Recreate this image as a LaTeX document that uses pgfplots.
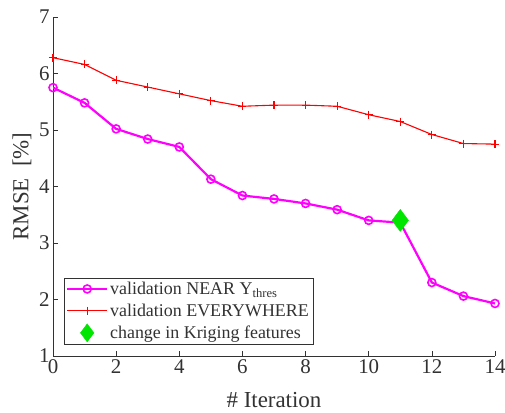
\documentclass[border=0pt]{standalone}
\usepackage{fontspec}
\setmainfont{Liberation Serif}
\usepackage{pgfplots}
\pgfplotsset{compat=1.18}
\definecolor{axgray}{RGB}{50,50,50}
\definecolor{magentaL}{RGB}{255,0,255}
\definecolor{greenD}{RGB}{0,230,0}
\begin{document}
\begin{tikzpicture}
\begin{axis}[
  name=ax,
  scale only axis,
  width=442bp, height=339bp,
  xmin=0, xmax=14, ymin=1, ymax=7,
  xtick={0,2,...,14}, ytick={1,2,...,7},
  axis x line*=bottom, axis y line*=left,
  axis line style={axgray, line width=0.6pt},
  tick style={axgray, line width=0.6pt},
  tick align=inside,
  major tick length=5bp,
  /pgf/number format/assume math mode=true,
  ticklabel style={font=\fontsize{21}{24}\selectfont, text=axgray},
  label style={font=\fontsize{23}{26}\selectfont, text=axgray},
  xlabel={\# Iteration},
  ylabel={RMSE\ \ [\%]},
  xlabel style={at={(axis description cs:0.5,-0.13)}, anchor=center},
  ylabel style={at={(axis description cs:-0.070,0.5)}, anchor=center},
  legend style={at={(0.025,0.035)}, anchor=south west, draw=axgray, fill=white,
     font=\fontsize{18}{20}\selectfont, text=axgray, inner sep=2bp, row sep=4bp},
  legend cell align=left,
]
\addplot[color=magentaL, line width=2.2pt, mark=o, mark size=4bp, mark options={line width=1.6pt},
  legend image code/.code={\draw[mark repeat=2,mark phase=2] plot coordinates {(0cm,0cm)(0.7cm,0cm)(1.4cm,0cm)};}] coordinates {
(0,5.75)(1,5.48)(2,5.02)(3,4.84)(4,4.70)(5,4.13)(6,3.84)(7,3.78)(8,3.70)(9,3.59)(10,3.40)(11,3.36)(12,2.30)(13,2.06)(14,1.93)};
\addlegendentry{validation NEAR Y\textsubscript{thres}}
\addplot[color=red, line width=1.1pt, mark=+, mark size=4bp, mark options={line width=1.1pt},
  legend image code/.code={\draw[mark repeat=2,mark phase=2] plot coordinates {(0cm,0cm)(0.7cm,0cm)(1.4cm,0cm)};}] coordinates {
(0,6.28)(1,6.16)(2,5.88)(3,5.76)(4,5.64)(5,5.52)(6,5.42)(7,5.44)(8,5.44)(9,5.42)(10,5.27)(11,5.15)(12,4.92)(13,4.76)(14,4.75)};
\addlegendentry{validation EVERYWHERE}
\addplot[only marks, mark=diamond*, mark size=11bp, color=greenD, fill=greenD,
  legend image code/.code={\draw[mark size=9bp] plot coordinates {(0.7cm,0cm)};}] coordinates {(11,3.40)};
\addlegendentry{change in Kriging features}
\end{axis}
\pgfresetboundingbox
\useasboundingbox ([xshift=-53bp,yshift=-57bp]ax.south west) rectangle ([xshift=10bp,yshift=17bp]ax.north east);
\end{tikzpicture}
\end{document}
